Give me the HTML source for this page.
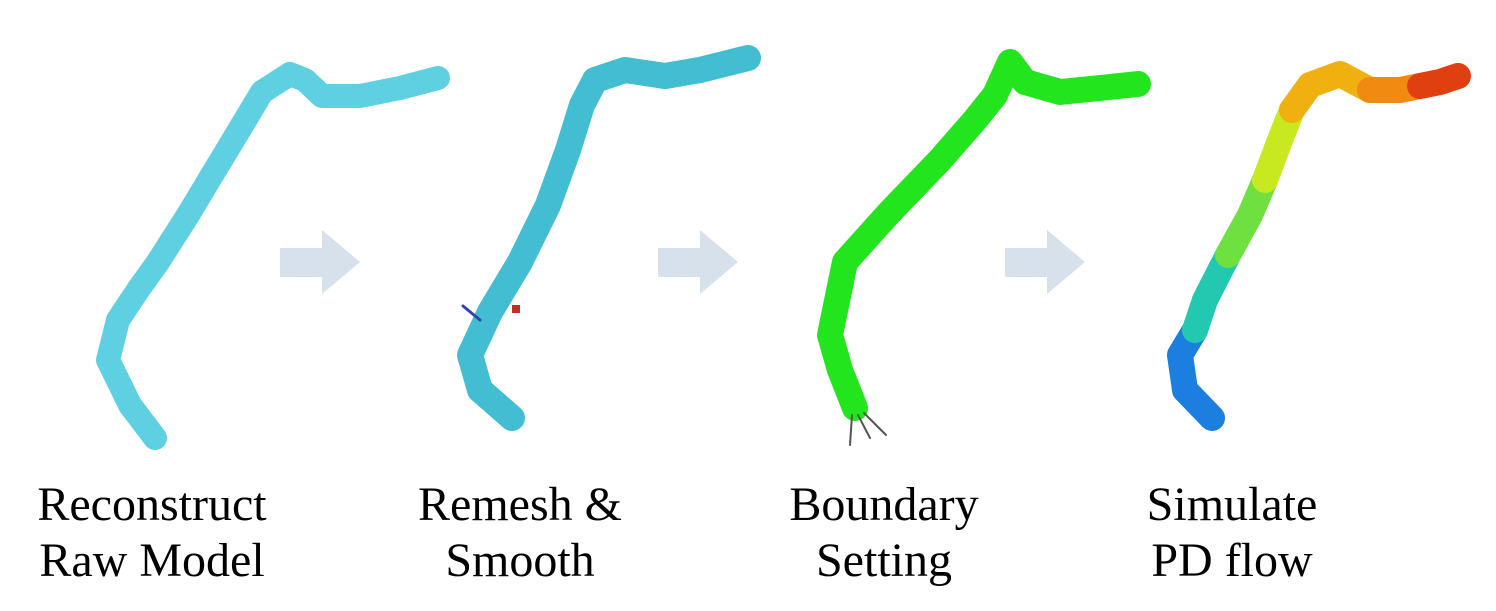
<!DOCTYPE html>
<html><head><meta charset="utf-8"><style>
html,body{margin:0;padding:0;background:#fff;width:1496px;height:611px;overflow:hidden}
svg{display:block}
text{font-family:"Liberation Serif",serif;font-size:48px;fill:#000}
</style></head><body>
<svg width="1496" height="611" viewBox="0 0 1496 611">
<g fill="none" stroke-linecap="round" stroke-linejoin="round">
<polyline points="155,438 130,405 108,360 118,320 138,290 158,262 188,215 212,175 238,132 262,92 290,74 305,80 322,96 360,96 400,88 438,78" stroke="#5fd0e2" stroke-width="24"/>
</g>
<g fill="none" stroke-linecap="round" stroke-linejoin="round">
<polyline points="512,418 480,390 470,355 490,312 520,262 548,205 568,150 582,105 595,80 625,70 665,76 700,70 748,58" stroke="#42bdd2" stroke-width="26"/>
<line x1="480" y1="320" x2="463" y2="306" stroke="#3344aa" stroke-width="3"/>
<rect x="512" y="305" width="8" height="8" fill="#c03020"/>
</g>
<g fill="none" stroke-linecap="round" stroke-linejoin="round">
<polyline points="855,408 840,370 830,335 845,262 890,212 940,160 975,120 995,95 1010,62 1025,82 1060,92 1100,88 1138,84" stroke="#23e51e" stroke-width="26"/>
<g stroke="#555" stroke-width="2">
<line x1="852" y1="415" x2="850" y2="445"/><line x1="858" y1="415" x2="870" y2="438"/><line x1="864" y1="413" x2="886" y2="435"/>
</g>
</g>
<g fill="none" stroke-linecap="round" stroke-linejoin="round" stroke-width="26">
<polyline points="1212,418 1185,390 1180,355 1195,330" stroke="#1c7fe0"/>
<polyline points="1195,330 1205,300 1228,255" stroke="#22c8b0"/>
<polyline points="1228,255 1250,215 1265,180" stroke="#6ee040"/>
<polyline points="1265,180 1280,140 1292,110" stroke="#c8e820"/>
<polyline points="1292,110 1310,85 1340,74 1370,90" stroke="#f0b010"/>
<polyline points="1370,90 1400,90 1420,86" stroke="#f08a10"/>
<polyline points="1420,86 1440,82 1458,76" stroke="#e04010"/>
</g>
<g fill="#d6e1eb">
<polygon points="280,248 322,248 322,230 360,262 322,294 322,277 280,277"/>
<polygon points="658,248 700,248 700,230 738,262 700,294 700,277 658,277"/>
<polygon points="1005,248 1047,248 1047,230 1085,262 1047,294 1047,277 1005,277"/>
</g>
<g text-anchor="middle">
<text x="152" y="520">Reconstruct</text>
<text x="152" y="576">Raw Model</text>
<text x="520" y="520">Remesh &amp;</text>
<text x="520" y="576">Smooth</text>
<text x="884" y="520">Boundary</text>
<text x="884" y="576">Setting</text>
<text x="1232" y="520">Simulate</text>
<text x="1232" y="576">PD flow</text>
</g>
</svg>
</body></html>
